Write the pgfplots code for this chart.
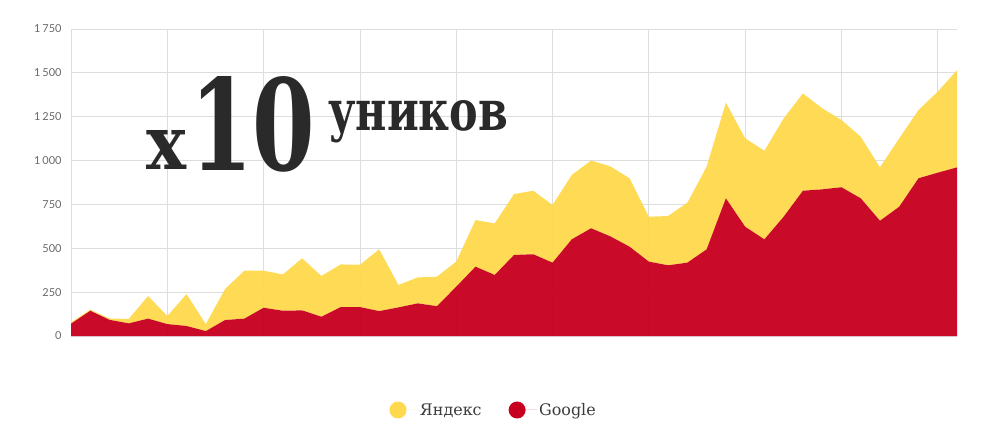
\documentclass[border=0pt]{standalone}
\usepackage{fontspec}
\usepackage{graphicx}
\usepackage{pgfplots}
\pgfplotsset{compat=1.18}
\usepackage{pgfplotstable}
\setmainfont{DejaVu Serif}
\newfontfamily\tickfont{Lato}
\definecolor{yand}{RGB}{254,217,78}
\definecolor{goog}{RGB}{200,0,32}
\definecolor{gridc}{RGB}{221,221,221}
\definecolor{ticktxt}{RGB}{105,105,105}
\definecolor{legtxt}{RGB}{60,60,60}
\definecolor{bigtxt}{RGB}{42,42,42}

\pgfplotstableread{
i google yandex
0 70 8
1 144 6
2 92 8
3 72 25
4 99 129
5 68 46
6 57 182
7 28 40
8 91 177
9 99 273
10 161 211
11 144 207
12 146 297
13 110 232
14 165 243
15 165 241
16 142 352
17 163 128
18 186 148
19 170 168
20 281 143
21 395 266
22 348 294
23 462 347
24 466 362
25 418 329
26 551 367
27 614 386
28 568 399
29 509 390
30 424 256
31 403 281
32 418 342
33 494 471
34 785 545
35 623 504
36 551 505
37 680 560
38 828 555
39 836 462
40 848 383
41 785 351
42 657 304
43 737 390
44 899 389
45 931 462
46 961 554
}\data

\begin{document}
\begin{tikzpicture}[x=1bp,y=1bp]
\useasboundingbox (0,0) rectangle (1004,430);
\begin{axis}[
  at={(71bp,94bp)}, anchor=south west,
  scale only axis, width=886bp, height=307bp,
  xmin=0, xmax=46, ymin=0, ymax=1750,
  stack plots=y,
  axis line style={draw=none},
  xtick={0,5,...,45}, xticklabels={},
  ytick={0,250,...,1750},
  grid=major,
  major grid style={draw=gridc, line width=0.8bp},
  major tick length=0pt,
  yticklabel style={font=\tickfont\fontsize{11}{13}\selectfont, text=ticktxt, xshift=-6bp},
  /pgf/number format/assume math mode=true,
  /pgf/number format/1000 sep={\,},
  legend image code/.code={\path[draw=none] (-8.5bp,0bp) -- (20bp,0bp); \fill[draw=none] (0bp,0bp) circle (8.5bp);},
  legend columns=2,
  legend style={at={(0.477,-0.241)}, anchor=center, draw=none, fill=none,
    font=\fontsize{16}{19}\selectfont, text=legtxt,
    /tikz/every even column/.append style={column sep=25bp}},
]
\addplot[draw=none, fill=goog, fill opacity=0.96, forget plot] table[x=i, y=google] {\data} \closedcycle;
\addplot[draw=none, fill=yand, fill opacity=0.96, forget plot] table[x=i, y=yandex] {\data} \closedcycle;
\addlegendimage{fill=yand, draw=none}
\addlegendentry{Яндекс}
\addlegendimage{fill=goog, draw=none}
\addlegendentry{Google}
\end{axis}
\node[anchor=base west, inner sep=0, text=bigtxt] at (146,261) {\resizebox{40bp}{39bp}{\bfseries x}};
\node[anchor=base west, inner sep=0, text=bigtxt] at (190,260) {\resizebox{125bp}{94bp}{\bfseries 10}};
\node[anchor=base west, inner sep=0, text=bigtxt] at (328,300) {\resizebox{180bp}{30bp}{\bfseries уников}};
\end{tikzpicture}
\end{document}
